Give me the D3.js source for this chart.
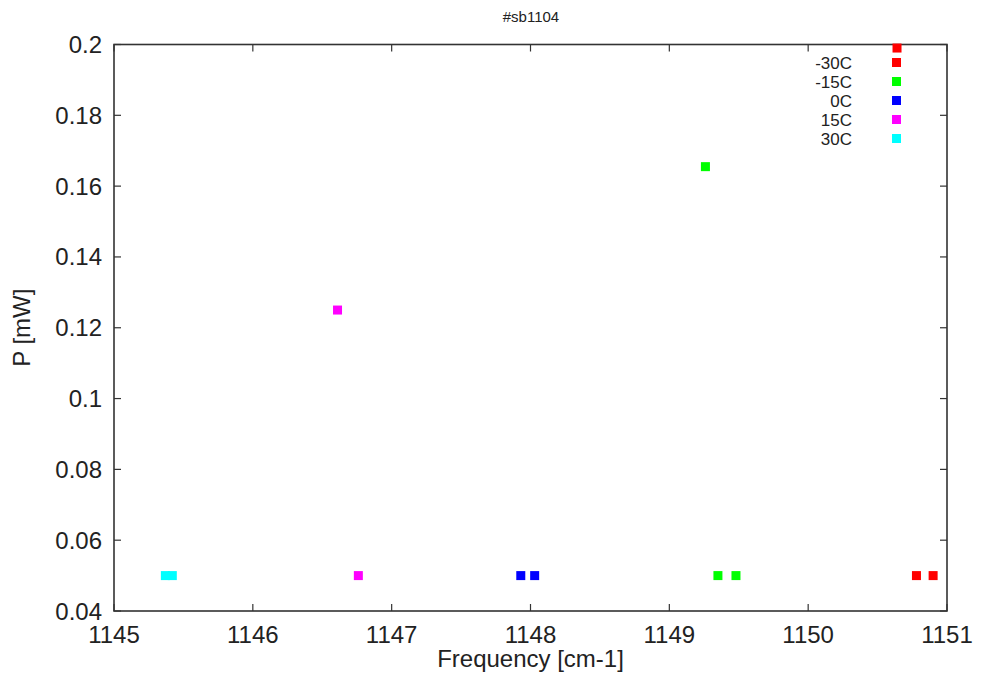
<!DOCTYPE html>
<html>
<head>
<style>
  body { margin: 0; background: #fff; }
  text { font-family: "Liberation Sans", Arial, sans-serif; fill: #222; }
</style>
</head>
<body>
</body>
<script src="https://d3js.org/d3.v7.min.js"></script>
<script>
// series names and colours, in legend order
var seriesNames = ["-30C", "-15C", "0C", "15C", "30C"];
var seriesColors = ["#ff0000", "#00ff00", "#0000ff", "#ff00ff", "#00ffff"];

// point values (frequency, power)
var freqM30 = [1150.64, 1150.78, 1150.90];
var powM30  = [0.199, 0.05, 0.05];
var freqM15 = [1149.26, 1149.35, 1149.48];
var powM15  = [0.1655, 0.05, 0.05];
var freq0   = [1147.93, 1148.03];
var pow0    = [0.05, 0.05];
var freq15  = [1146.61, 1146.76];
var pow15   = [0.125, 0.05];
var freq30  = [1145.37, 1145.42];
var pow30   = [0.05, 0.05];

var xTicks = [1145, 1146, 1147, 1148, 1149, 1150, 1151];
var yTicks = [0.04, 0.06, 0.08, 0.1, 0.12, 0.14, 0.16, 0.18, 0.2];

var allFreq = [freqM30, freqM15, freq0, freq15, freq30];
var allPow = [powM30, powM15, pow0, pow15, pow30];

var W = 983, H = 679;
// plot edges (window.top is reserved, so use own names)
var plotL = 114, plotR = 947, plotT = 44.5, plotB = 611;

var svg = d3.select("body").append("svg")
    .attr("width", W)
    .attr("height", H);

var x = d3.scaleLinear().domain([1145, 1151]).range([plotL, plotR]);
var y = d3.scaleLinear().domain([0.04, 0.2]).range([plotB, plotT]);

var axisColor = "#333";
var tickLen = 7;

// ticks on all four sides, pointing inward
var g = svg.append("g");
xTicks.forEach(function (t) {
  g.append("line").attr("x1", x(t)).attr("x2", x(t)).attr("y1", plotB).attr("y2", plotB - tickLen)
    .attr("stroke", axisColor).attr("stroke-width", 1.2);
  g.append("line").attr("x1", x(t)).attr("x2", x(t)).attr("y1", plotT).attr("y2", plotT + tickLen)
    .attr("stroke", axisColor).attr("stroke-width", 1.2);
  g.append("text").attr("x", x(t)).attr("y", plotB + 32)
    .attr("text-anchor", "middle").attr("font-size", 24).text(t);
});
yTicks.forEach(function (t) {
  g.append("line").attr("x1", plotL).attr("x2", plotL + tickLen).attr("y1", y(t)).attr("y2", y(t))
    .attr("stroke", axisColor).attr("stroke-width", 1.2);
  g.append("line").attr("x1", plotR).attr("x2", plotR - tickLen).attr("y1", y(t)).attr("y2", y(t))
    .attr("stroke", axisColor).attr("stroke-width", 1.2);
  g.append("text").attr("x", plotL - 12).attr("y", y(t) + 8.5)
    .attr("text-anchor", "end").attr("font-size", 24).text(d3.format("~g")(t));
});

// frame
svg.append("rect")
    .attr("x", plotL).attr("y", plotT)
    .attr("width", plotR - plotL).attr("height", plotB - plotT)
    .attr("fill", "none").attr("stroke", axisColor).attr("stroke-width", 1.6);

// points
var sz = 9;
for (var s = 0; s < seriesNames.length; s++) {
  var pts = allFreq[s].map(function (f, i) { return { f: f, p: allPow[s][i] }; });
  svg.append("g").selectAll("rect")
    .data(pts)
    .enter()
    .append("rect")
    .attr("x", function (d) { return x(d.f) - sz / 2; })
    .attr("y", function (d) { return y(d.p) - sz / 2; })
    .attr("width", sz).attr("height", sz)
    .attr("fill", seriesColors[s]);
}

// legend
var legTop = 62.5, legStep = 19;
seriesNames.forEach(function (name, i) {
  var ly = legTop + i * legStep;
  svg.append("text").attr("x", 852).attr("y", ly + 6)
    .attr("text-anchor", "end").attr("font-size", 17).text(name);
  svg.append("rect").attr("x", 896.5 - sz / 2).attr("y", ly - sz / 2)
    .attr("width", sz).attr("height", sz).attr("fill", seriesColors[i]);
});

// title and axis labels
svg.append("text").attr("x", 531).attr("y", 22)
  .attr("text-anchor", "middle").attr("font-size", 15).text("#sb1104");
svg.append("text").attr("x", (plotL + plotR) / 2).attr("y", 667)
  .attr("text-anchor", "middle").attr("font-size", 24).text("Frequency [cm-1]");
svg.append("text")
  .attr("transform", "translate(30," + ((plotT + plotB) / 2) + ") rotate(-90)")
  .attr("text-anchor", "middle").attr("font-size", 24).text("P [mW]");
</script>
</html>
